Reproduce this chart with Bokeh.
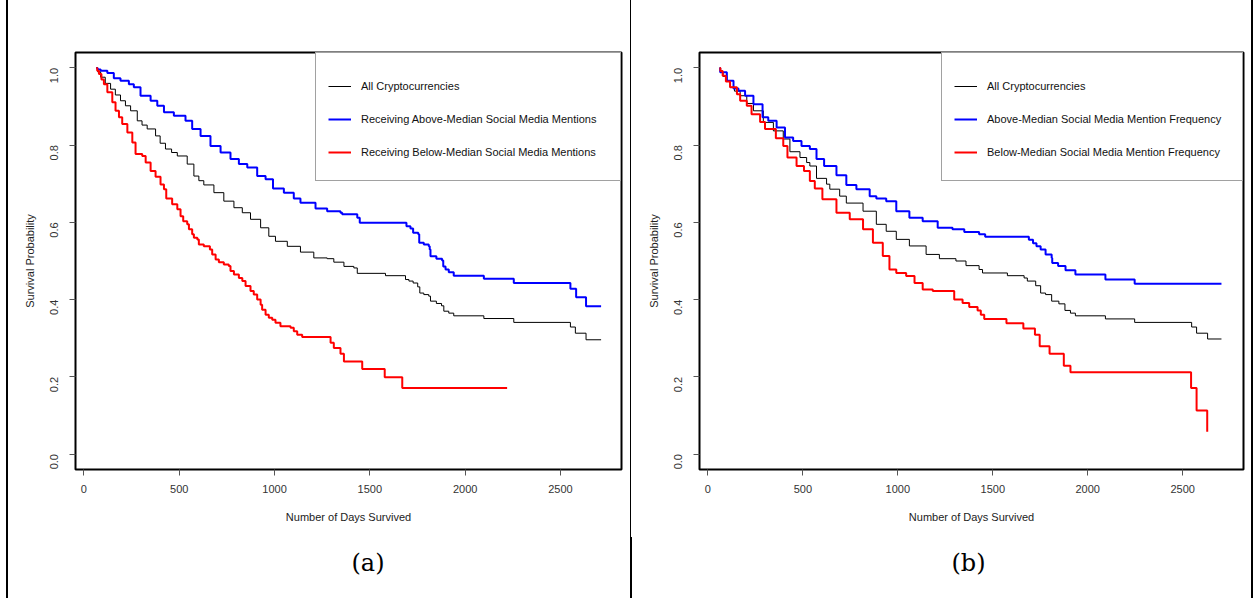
import math
from bokeh.plotting import figure
from bokeh.models import (Range1d, FixedTicker, PrintfTickFormatter, Legend,
                          LegendItem, Title, Div)
from bokeh.layouts import row, column
from bokeh.embed import file_html
from bokeh.resources import INLINE

# ---------------- data ----------------
X_TICKS = [0, 500, 1000, 1500, 2000, 2500]
Y_TICKS = [0.0, 0.2, 0.4, 0.6, 0.8, 1.0]

# Panel (a)
A_ALL_DAYS = [65, 72, 88, 112, 140, 165, 192, 218, 245, 280, 305, 332, 376, 400, 428, 460, 490,
              542, 577, 603, 629, 682, 734, 787, 831,
              874, 927, 970, 1005, 1067, 1136, 1206, 1276, 1311, 1364, 1416, 1434, 1582, 1687,
              1705, 1727, 1751, 1762, 1783, 1809, 1818, 1849, 1876, 1888, 1914, 1940, 2098,
              2255, 2552, 2578, 2634, 2713]
A_ALL_SURV = [1.0, 0.990, 0.976, 0.960, 0.945, 0.930, 0.915, 0.902, 0.889, 0.863, 0.852, 0.842,
              0.824, 0.805, 0.790, 0.781, 0.772, 0.751, 0.720,
              0.708, 0.697, 0.677, 0.655, 0.638, 0.625, 0.608, 0.586, 0.564, 0.551, 0.538, 0.523,
              0.508, 0.506, 0.497, 0.486, 0.482, 0.468, 0.462, 0.452, 0.448, 0.443, 0.433, 0.417,
              0.413, 0.409, 0.396, 0.390, 0.384, 0.370, 0.365, 0.358, 0.351, 0.341, 0.329, 0.313,
              0.296, 0.296]

A_ABOVE_DAYS = [65, 72, 88, 123, 157, 192, 236, 262, 297, 350, 385, 420, 472, 533, 568, 612, 664,
                717, 769, 813, 857, 909, 953, 992, 1049, 1101, 1136, 1215, 1276, 1346, 1355, 1434,
                1447, 1692, 1713, 1727, 1754, 1759, 1783, 1809, 1814, 1818, 1849, 1879, 1885,
                1897, 1914, 1940, 2098, 2255, 2552, 2582, 2634, 2713]
A_ABOVE_SURV = [1.0, 0.996, 0.993, 0.987, 0.973, 0.967, 0.958, 0.950, 0.928, 0.915, 0.902, 0.885,
                0.876, 0.863, 0.842, 0.824, 0.798, 0.781, 0.764, 0.751, 0.742, 0.720, 0.712, 0.688,
                0.677, 0.662, 0.651, 0.636, 0.629, 0.625, 0.621, 0.612, 0.599, 0.590, 0.584,
                0.573, 0.569, 0.547, 0.543, 0.538, 0.530, 0.512, 0.506, 0.501, 0.486, 0.478,
                0.471, 0.462, 0.454, 0.443, 0.428, 0.406, 0.383, 0.383]

A_BELOW_DAYS = [65, 70, 79, 92, 105, 123, 149, 166, 184, 201, 228, 254, 271, 306, 324, 350, 376,
                402, 420, 432, 463, 490, 507, 521, 542, 551, 568, 577, 595, 603, 629, 661, 673,
                691, 708, 734, 760, 769, 787, 813, 831, 848, 874, 891, 909, 927, 935, 953, 970,
                988, 1005, 1031, 1084, 1101, 1119, 1145, 1294, 1311, 1346, 1364, 1460, 1578,
                1670, 2220]
A_BELOW_SURV = [1.0, 0.993, 0.984, 0.970, 0.958, 0.937, 0.911, 0.889, 0.872, 0.855, 0.833, 0.807,
                0.777, 0.772, 0.755, 0.733, 0.718, 0.698, 0.686, 0.662, 0.647, 0.634, 0.616,
                0.603, 0.595, 0.582, 0.569, 0.560, 0.556, 0.543, 0.538, 0.530, 0.517, 0.504,
                0.497, 0.491, 0.487, 0.474, 0.465, 0.456, 0.448, 0.435, 0.422, 0.413, 0.400,
                0.387, 0.374, 0.361, 0.353, 0.348, 0.340, 0.331, 0.327, 0.318, 0.309, 0.303,
                0.288, 0.275, 0.260, 0.240, 0.220, 0.199, 0.171, 0.171]

# Panel (b)
B_ALL_DAYS = [62, 66, 80, 100, 117, 140, 170, 205, 240, 292, 345, 397, 432, 485, 520, 537, 572,
              625, 642, 694, 729, 817, 887, 939, 992, 1061, 1149, 1219, 1306, 1359, 1428, 1446,
              1577, 1665, 1682, 1726, 1752, 1778, 1810, 1848, 1880, 1909, 1935, 2093, 2247, 2547,
              2573, 2631, 2704]
B_ALL_SURV = [1.0, 0.990, 0.978, 0.965, 0.950, 0.940, 0.928, 0.908, 0.889, 0.859, 0.837, 0.816,
              0.783, 0.768, 0.755, 0.746, 0.714, 0.699, 0.686, 0.668, 0.650, 0.629, 0.595, 0.577,
              0.556, 0.539, 0.517, 0.506, 0.500, 0.488, 0.478, 0.469, 0.462, 0.456, 0.448, 0.436,
              0.417, 0.413, 0.396, 0.389, 0.372, 0.365, 0.358, 0.350, 0.341, 0.329, 0.313, 0.298,
              0.298]

B_ABOVE_DAYS = [62, 65, 100, 135, 161, 196, 240, 288, 318, 362, 406, 449, 493, 537, 572, 612, 677,
                729, 782, 852, 887, 939, 992, 1061, 1131, 1210, 1288, 1350, 1428, 1460, 1690,
                1712, 1730, 1752, 1778, 1810, 1813, 1844, 1883, 1935, 2093, 2247, 2704]
B_ABOVE_SURV = [1.0, 0.989, 0.967, 0.947, 0.941, 0.928, 0.906, 0.872, 0.863, 0.846, 0.820, 0.811,
                0.798, 0.790, 0.764, 0.746, 0.722, 0.697, 0.686, 0.668, 0.662, 0.655, 0.629,
                0.612, 0.603, 0.586, 0.582, 0.575, 0.569, 0.563, 0.555, 0.546, 0.538, 0.530,
                0.517, 0.508, 0.495, 0.487, 0.476, 0.465, 0.452, 0.441, 0.441]

B_BELOW_DAYS = [62, 66, 78, 95, 117, 153, 170, 205, 230, 275, 301, 358, 397, 419, 467, 506, 537,
                563, 603, 677, 747, 817, 869, 921, 956, 992, 1044, 1088, 1131, 1184, 1297, 1341,
                1376, 1420, 1437, 1455, 1572, 1661, 1722, 1747, 1799, 1874, 1909, 2544, 2573,
                2629]
B_BELOW_SURV = [1.0, 0.992, 0.980, 0.965, 0.950, 0.932, 0.915, 0.902, 0.880, 0.860, 0.842, 0.818,
                0.798, 0.768, 0.746, 0.733, 0.707, 0.688, 0.660, 0.625, 0.608, 0.582, 0.547,
                0.513, 0.478, 0.469, 0.461, 0.443, 0.426, 0.422, 0.400, 0.391, 0.381, 0.372,
                0.361, 0.350, 0.339, 0.325, 0.309, 0.279, 0.260, 0.229, 0.212, 0.171, 0.113,
                0.058]

A_LABELS = ["All Cryptocurrencies",
            "Receiving Above-Median Social Media Mentions",
            "Receiving Below-Median Social Media Mentions"]
B_LABELS = ["All Cryptocurrencies",
            "Above-Median Social Media Mention Frequency",
            "Below-Median Social Media Mention Frequency"]

FONT = "Liberation Sans"
H = 598


def make_panel(width, min_left, min_right, series, labels, label_width, caption, cap_offset):
    p = figure(width=width, height=H, x_range=Range1d(-44, 2820), y_range=Range1d(-0.04, 1.04),
               output_backend="svg", toolbar_location=None,
               min_border_left=min_left, min_border_right=min_right,
               min_border_top=52, min_border_bottom=128)
    p.grid.visible = False
    p.outline_line_color = "black"
    p.outline_line_width = 2
    p.background_fill_color = "white"
    p.border_fill_color = "white"

    p.xaxis.ticker = FixedTicker(ticks=X_TICKS)
    p.yaxis.ticker = FixedTicker(ticks=Y_TICKS)
    p.yaxis.formatter = PrintfTickFormatter(format="%.1f")
    p.yaxis.major_label_orientation = math.pi / 2
    for ax in (p.xaxis, p.yaxis):
        ax.axis_line_color = None
        ax.major_tick_in = 0
        ax.major_tick_out = 6
        ax.major_tick_line_color = "#555555"
        ax.minor_tick_line_color = None
        ax.major_label_text_font = FONT
        ax.major_label_text_font_size = "11px"
        ax.major_label_text_color = "#333333"
        ax.axis_label_text_font = FONT
        ax.axis_label_text_font_size = "11px"
        ax.axis_label_text_font_style = "normal"
        ax.axis_label_text_color = "#222222"
    p.xaxis.major_label_standoff = 9
    p.yaxis.major_label_standoff = 15
    p.xaxis.axis_label = "Number of Days Survived"
    p.yaxis.axis_label = "Survival Probability"
    p.xaxis.axis_label_standoff = 15
    p.yaxis.axis_label_standoff = 8

    colors = ["black", "#0000ff", "#ff0000"]
    widths = [1, 2, 2]
    items = []
    for (d, s), c, w, lab in zip(series, colors, widths, labels):
        r = p.step(d, s, mode="after", line_color=c, line_width=w)
        items.append(LegendItem(label=lab, renderers=[r]))

    leg = Legend(items=items, location="top_right", margin=0, padding=12, spacing=1,
                 glyph_width=23, glyph_height=32, label_height=32, label_width=label_width,
                 label_standoff=10, label_text_font=FONT, label_text_font_size="11px",
                 label_text_color="#111111",
                 border_line_color="#444444", border_line_width=1,
                 background_fill_color="white", background_fill_alpha=1.0,
                 title=" ", title_text_font_size="4px", title_standoff=0)
    p.add_layout(leg)

    p.add_layout(Title(text=caption, align="left", offset=cap_offset, standoff=43,
                       text_font="DejaVu Serif", text_font_size="24px",
                       text_font_style="normal", text_color="black"), "below")
    return p


pa = make_panel(622, 67, 9,
                [(A_ALL_DAYS, A_ALL_SURV), (A_ABOVE_DAYS, A_ABOVE_SURV), (A_BELOW_DAYS, A_BELOW_SURV)],
                A_LABELS, 247, "(a)", 276)
pb = make_panel(619, 67, 8,
                [(B_ALL_DAYS, B_ALL_SURV), (B_ABOVE_DAYS, B_ABOVE_SURV), (B_BELOW_DAYS, B_BELOW_SURV)],
                B_LABELS, 243, "(b)", 252)


def vline(w, h, color="black"):
    return Div(width=w, height=h, margin=0, styles={"background-color": color})


left_pad = vline(6, H, "white")
left_border = vline(2, H)
mid = column(vline(1, 537), vline(2, H - 537), spacing=0)
right_border = vline(2, H)

layout = row(left_pad, left_border, pa, mid, pb, right_border, spacing=0)

open("out.html", "w").write(file_html(layout, INLINE))
